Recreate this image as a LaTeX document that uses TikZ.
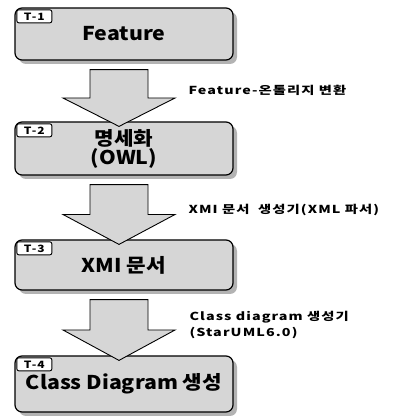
\documentclass[tikz,border=0pt]{standalone}
\usepackage{fontspec}
\setmainfont{Noto Sans CJK KR}
\usetikzlibrary{positioning,calc,shadows}

\tikzset{
  stepbox/.style={draw=black, line width=1.2pt, fill=gray!32, rounded corners=7pt, minimum width=218pt, minimum height=52pt, align=center, font=\fontsize{19}{19}\selectfont\bfseries\addfontfeature{FakeStretch=1.12}, drop shadow={shadow xshift=4pt, shadow yshift=-4pt, fill=gray!80, opacity=0.75}},
  tagbox/.style={draw=black, line width=0.9pt, fill=white, rounded corners=2pt, minimum width=35pt, minimum height=13pt, inner sep=0pt, font=\fontsize{10}{10}\selectfont\bfseries\addfontfeature{FakeStretch=1.2,LetterSpace=10}, anchor=north west},
  flowarr/.style={draw=black, line width=0.9pt, fill=gray!32},
  sidelabel/.style={anchor=west, align=left, font=\fontsize{11}{16}\selectfont\bfseries\addfontfeature{FakeStretch=1.3,LetterSpace=10}}
}

% block arrow from one step box down to the next
\newcommand{\flowarrow}[2]{%
  \filldraw[flowarr] let \p1=($(#1.south)+(-5,-9)$), \p2=($(#2.north)+(-5,-5)$), \n1={0.5*(\y1+\y2)} in
    (\x1-29pt,\y1) -- (\x1+29pt,\y1) -- (\x1+29pt,\n1) -- (\x1+56pt,\n1) -- (\x2,\y2) -- (\x1-56pt,\n1) -- (\x1-29pt,\n1) -- cycle;}

\begin{document}
\begin{tikzpicture}[x=1pt, y=1pt]
  \useasboundingbox (0,0) rectangle (397,416);

  % steps
  \node[stepbox] (t1) at (124,382) {Feature};
  \node[stepbox, minimum height=53pt] (t2) at (124,267.5) {명세화\\(OWL)};
  \node[stepbox, minimum height=50pt] (t3) at (124,151) {XMI 문서};
  \node[stepbox, minimum height=56pt] (t4) at (124,32) {Class Diagram 생성};

  \node[tagbox] (t1tag) at ($(t1.north west)+(2,-2)$) {T-1};
  \node[tagbox] (t2tag) at ($(t2.north west)+(2,-2)$) {T-2};
  \node[tagbox] (t3tag) at ($(t3.north west)+(2,-2)$) {T-3};
  \node[tagbox] (t4tag) at ($(t4.north west)+(2,-2)$) {T-4};

  % transitions
  \flowarrow{t1}{t2}
  \flowarrow{t2}{t3}
  \flowarrow{t3}{t4}

  \node[sidelabel] (l1) at (185,326) {Feature-온톨리지 변환};
  \node[sidelabel] (l2) at (185,206) {XMI 문서\ \ 생성기(XML 파서)};
  \node[sidelabel] (l3) at (186,91) {Class diagram 생성기\\(StarUML6.0)};
\end{tikzpicture}
\end{document}
